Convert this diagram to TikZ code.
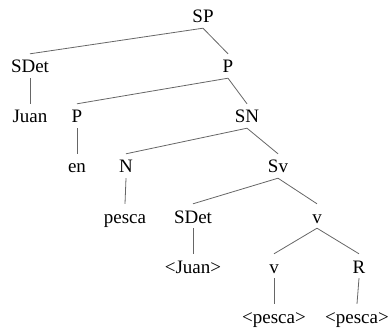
\documentclass[tikz,border=0pt]{standalone}
\usepackage{fontspec}
\setmainfont{Liberation Serif}
\begin{document}
\begin{tikzpicture}[x=1pt,y=-1pt,
  lbl/.style={anchor=base,font=\fontsize{19}{22}\selectfont,text height=14pt,text depth=0pt,inner ysep=5pt,inner xsep=1pt},
  br/.style={draw=black!60,line width=0.8pt}]
\useasboundingbox (0,0) rectangle (388,331);
\node[lbl] (sp) at (203,23) {SP};
\node[lbl] (sdet) at (30,73) {SDet};
\node[lbl] (p1) at (228,73) {P};
\node[lbl] (juan) at (30,123) {Juan};
\node[lbl] (p2) at (77,123) {P};
\node[lbl] (sn) at (247,123) {SN};
\node[lbl] (en) at (77,173) {en};
\node[lbl] (n) at (126,173) {N};
\node[lbl] (sv) at (278,173) {Sv};
\node[lbl] (pesca) at (125,223) {pesca};
\node[lbl] (sdet2) at (193,223) {SDet};
\node[lbl] (v1) at (317,223) {v};
\node[lbl] (juan2) at (193,273) {<Juan>};
\node[lbl] (v2) at (274,273) {v};
\node[lbl] (r) at (359,273) {R};
\node[lbl] (pesca2) at (274,323) {<pesca>};
\node[lbl] (pesca3) at (357,323) {<pesca>};
\draw[br] (sp.south) -- (sdet.north);
\draw[br] (sp.south) -- (p1.north);
\draw[br] (sdet.south) -- (juan.north);
\draw[br] (p1.south) -- (p2.north);
\draw[br] (p1.south) -- (sn.north);
\draw[br] (p2.south) -- (en.north);
\draw[br] (sn.south) -- (n.north);
\draw[br] (sn.south) -- (sv.north);
\draw[br] (n.south) -- (pesca.north);
\draw[br] (sv.south) -- (sdet2.north);
\draw[br] (sv.south) -- (v1.north);
\draw[br] (sdet2.south) -- (juan2.north);
\draw[br] (v1.south) -- (v2.north);
\draw[br] (v1.south) -- (r.north);
\draw[br] (v2.south) -- (pesca2.north);
\draw[br] (r.south) -- (pesca3.north);
\end{tikzpicture}
\end{document}
